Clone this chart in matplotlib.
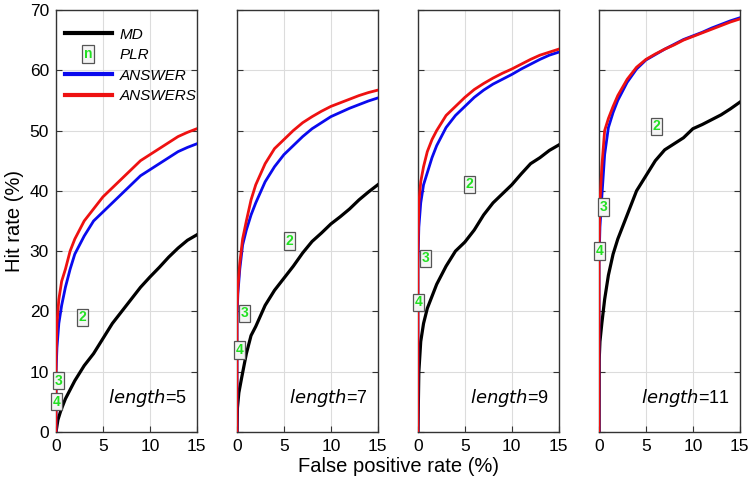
import matplotlib
matplotlib.use('Agg')
import matplotlib.pyplot as plt
from matplotlib.legend_handler import HandlerBase
from matplotlib.lines import Line2D
import matplotlib.text as mtext

plt.rcParams['font.family'] = ['Liberation Sans', 'DejaVu Sans']

lengths = [5, 7, 9, 11]
fp_grid = [0, 0, 0.1, 0.3, 0.6, 1, 1.5, 2, 3, 4, 5, 6, 7, 8, 9, 10, 11, 12, 13, 14, 15]

# MD curves (black)
md_x = [
    [0, 0.2, 0.5, 1, 1.5, 2, 3, 4, 5, 6, 7, 8, 9, 10, 11, 12, 13, 14, 15],
    [0, 0.05, 0.2, 0.5, 1, 1.5, 2, 3, 4, 5, 6, 7, 8, 9, 10, 11, 12, 13, 14, 15],
    [0, 0.05, 0.1, 0.3, 0.6, 1, 1.5, 2, 3, 4, 5, 6, 7, 8, 9, 10, 11, 12, 13, 14, 15],
    [0, 0.02, 0.1, 0.3, 0.6, 1, 1.5, 2, 3, 4, 5, 6, 7, 8, 9, 10, 11, 12, 13, 14, 15],
]
md_y = [
    [0, 2, 3.5, 5.5, 7, 8.5, 11, 13, 15.5, 18, 20, 22, 24, 25.7, 27.3, 29, 30.5, 31.8, 32.7],
    [0, 4, 6.5, 9, 13, 16, 17.5, 21, 23.5, 25.5, 27.5, 29.7, 31.6, 33, 34.5, 35.7, 37, 38.5, 39.8, 41],
    [0, 5, 10, 15, 18, 20.5, 22.5, 24.5, 27.5, 30, 31.5, 33.5, 36, 38, 39.5, 41, 42.8, 44.5, 45.5, 46.7, 47.6],
    [0, 12, 15, 18, 22, 26, 29.5, 32, 36, 40, 42.5, 45, 46.8, 47.8, 48.8, 50.3, 51, 51.8, 52.6, 53.6, 54.7],
]

# ANSWER curves (blue), sampled on fp_grid
answer_y = [
    [0, 10, 14, 18, 21, 24, 27, 29.5, 32.5, 35, 36.5, 38, 39.5, 41, 42.5, 43.5, 44.5, 45.5, 46.5, 47.2, 47.8],
    [0, 19, 23, 27, 31, 33.5, 36, 38, 41.5, 44, 46, 47.5, 49, 50.3, 51.3, 52.3, 53, 53.7, 54.3, 54.9, 55.4],
    [0, 28, 34, 38, 41, 43, 45.5, 47.5, 50.5, 52.5, 54, 55.5, 56.7, 57.7, 58.5, 59.3, 60.2, 61, 61.8, 62.5, 63],
    [0, 28, 34, 39, 46, 50.5, 53, 55, 58, 60.2, 61.7, 62.6, 63.5, 64.3, 65.1, 65.7, 66.3, 67, 67.6, 68.2, 68.7],
]

# ANSWERS curves (red), sampled on fp_grid
answers_y = [
    [0, 12, 18, 22, 25, 27, 30, 32, 35, 37, 39, 40.5, 42, 43.5, 45, 46, 47, 48, 49, 49.7, 50.3],
    [0, 20, 24, 28, 32, 35, 38.5, 41, 44.5, 47, 48.5, 50, 51.3, 52.3, 53.2, 54, 54.6, 55.2, 55.8, 56.3, 56.7],
    [0, 30, 38, 41.5, 44, 46.5, 48.5, 50, 52.5, 54, 55.5, 56.8, 57.8, 58.7, 59.5, 60.2, 61, 61.8, 62.5, 63, 63.5],
    [0, 30, 38, 44, 50, 52, 54, 55.8, 58.5, 60.5, 61.8, 62.7, 63.5, 64.2, 65, 65.6, 66.2, 66.8, 67.4, 68, 68.5],
]

# PLR operating points, labelled by threshold
plr_labels = ['4', '3', '2']
plr_x = [[0.05, 0.25, 2.8], [0.3, 0.85, 5.6], [0.1, 0.85, 5.5], [0.1, 0.45, 6.1]]
plr_y = [[5, 8.5, 19], [13.6, 19.7, 31.7], [21.5, 28.8, 41.1], [30, 37.3, 50.7]]

GREEN = '#22e022'
box = dict(boxstyle='square,pad=0.12', fc='#f4f4f4', ec='#555555', lw=0.9)


class TextBoxHandler(HandlerBase):
    def create_artists(self, legend, orig_handle, xdescent, ydescent,
                       width, height, fontsize, trans):
        t = mtext.Text(width / 2 - xdescent, height / 2 - ydescent, 'n',
                       color=GREEN, fontsize=10, fontweight='bold',
                       ha='center', va='center', bbox=box, transform=trans)
        return [t]


fig = plt.figure(figsize=(7.53, 4.88), dpi=100)
lefts = [0.0744, 0.3147, 0.555, 0.7955]
axes = []
for i, L in enumerate(lengths):
    ax = fig.add_axes([lefts[i], 0.1148, 0.187, 0.8648])
    axes.append(ax)
    ax.plot(md_x[i], md_y[i], color='black', lw=2.3, label='MD', zorder=3)
    ax.plot(fp_grid, answer_y[i], color='#0a0aee', lw=2.0, label='ANSWER', zorder=4)
    ax.plot(fp_grid, answers_y[i], color='#ee1111', lw=2.0, label='ANSWERS', zorder=5)
    for lab, px, py in zip(plr_labels, plr_x[i], plr_y[i]):
        ax.text(px, py, lab, color=GREEN, fontsize=10, fontweight='bold',
                ha='center', va='center', bbox=box, zorder=6)
    ax.text(0.93, 0.08, r'$\it{length}$' + '=%d' % L, transform=ax.transAxes,
            ha='right', va='center', fontsize=13)
    ax.set_xlim(0, 15)
    ax.set_ylim(0, 70)
    ax.set_xticks([0, 5, 10, 15])
    ax.set_yticks(range(0, 71, 10))
    ax.grid(True, color='#dcdcdc', lw=0.8)
    ax.tick_params(direction='in', right=True, length=4, labelsize=12.5, pad=5, color='#333333')
    for s in ax.spines.values():
        s.set_color('#333333')
        s.set_linewidth(1.0)
    if i > 0:
        ax.set_yticklabels([])

axes[0].set_ylabel('Hit rate (%)', fontsize=14.5, labelpad=4)
fig.text(0.529, 0.045, 'False positive rate (%)', ha='center', va='center', fontsize=14.5)

handles = [Line2D([], [], color='black', lw=3),
           'plr',
           Line2D([], [], color='#0a0aee', lw=3),
           Line2D([], [], color='#ee1111', lw=3)]
leg = axes[0].legend(handles, ['MD', 'PLR', 'ANSWER', 'ANSWERS'],
                     handler_map={str: TextBoxHandler()},
                     loc='upper left', bbox_to_anchor=(0.04, 0.965),
                     frameon=False, fontsize=11,
                     handlelength=3.1, labelspacing=0.42, handletextpad=0.5,
                     borderpad=0.2, borderaxespad=0)
for t in leg.get_texts():
    t.set_fontstyle('italic')

fig.savefig('out.png', dpi=100)
